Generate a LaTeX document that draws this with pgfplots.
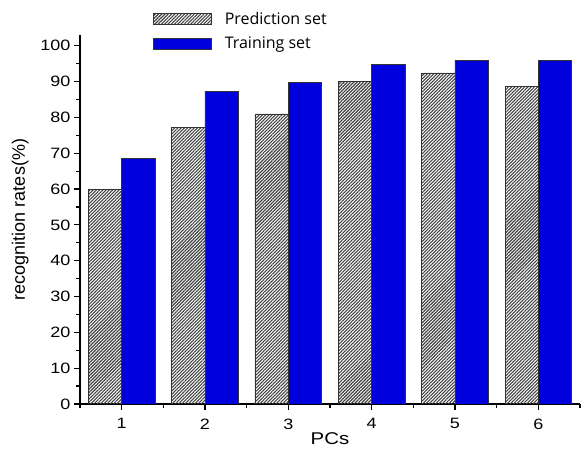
\documentclass[border=0pt]{standalone}
\usepackage{pgfplots}
\pgfplotsset{compat=1.18}
\usepackage{fontspec}
\setmainfont{Liberation Sans}
\newfontfamily\wfont[FakeStretch=1.2]{Liberation Sans}
\newfontfamily\legfont{Open Sans}
\usetikzlibrary{patterns.meta}

\begin{document}
\begin{tikzpicture}
\begin{axis}[
    scale only axis,
    width=500pt, height=369pt,
    xmin=0.5, xmax=6.5,
    ymin=0, ymax=103,
    axis lines*=left,
    axis line style={line width=1.2pt},
    xtick={1,2,3,4,5,6},
    minor xtick={0.5,1.5,2.5,3.5,4.5,5.5,6.5},
    ytick={0,10,...,100},
    minor y tick num=1,
    tick align=outside,
    major tick length=6pt,
    minor tick length=4pt,
    every tick/.style={black, line width=1.2pt},
    tick label style={font=\wfont\fontsize{15}{17}\selectfont},
    xticklabel style={yshift=-5pt},
    /pgf/number format/assume math mode=true,
    xlabel={PCs},
    ylabel={recognition rates(\%)},
    xlabel style={font=\wfont\fontsize{17}{19}\selectfont, yshift=3pt},
    ylabel style={font=\fontsize{18}{20}\selectfont, yshift=5pt},
    ybar,
    bar width=0.4,
    legend style={at={(0.14,1.073)}, anchor=north west, draw=none, fill=none,
        font=\legfont\fontsize{16}{19}\selectfont, row sep=7pt},
    legend cell align=left,
    legend image code/.code={\draw[#1] (0pt,-5.5pt) rectangle (58pt,5.5pt);},
]
\addplot[bar shift=-0.2, draw=black!80, line width=0.6pt,
    pattern={Lines[angle=45, distance=2.3pt, line width=1.1pt]}, pattern color=black!75]
    coordinates {(1,60) (2,77.3) (3,81) (4,90) (5,92.4) (6,88.6)};
\addlegendentry{\hspace{11pt}Prediction set}
\addplot[bar shift=0.2, draw=black!80, line width=0.6pt, fill={rgb,255:red,0;green,0;blue,220}]
    coordinates {(1,68.5) (2,87.3) (3,89.8) (4,94.9) (5,96) (6,96)};
\addlegendentry{\hspace{11pt}Training set}
\end{axis}
\useasboundingbox (-80pt,-45pt) rectangle (504pt,404pt);
\end{tikzpicture}
\end{document}
